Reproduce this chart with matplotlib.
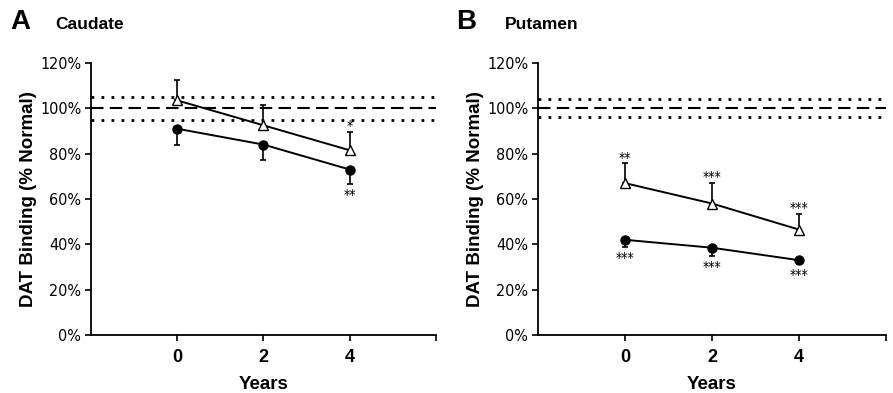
import matplotlib
matplotlib.use("Agg")
import matplotlib.pyplot as plt

YEARS = [0, 2, 4]

# Caudate (panel A)
caud_open = [103.5, 92.5, 81.5]
caud_open_err = [8.8, 8.8, 8.0]
caud_open_stars = ["", "", "*"]
caud_filled = [91.0, 84.0, 73.0]
caud_filled_err = [7.0, 7.0, 6.3]
caud_filled_stars = ["", "", "**"]
caud_band = [95, 100, 105]

# Putamen (panel B)
put_open = [67.0, 58.0, 46.5]
put_open_err = [8.7, 8.9, 7.0]
put_open_stars = ["**", "***", "***"]
put_filled = [42.0, 38.5, 33.0]
put_filled_err = [3.0, 3.5, 1.6]
put_filled_stars = ["***", "***", "***"]
put_band = [96, 100, 104]

plt.rcParams["font.family"] = ["Liberation Sans", "DejaVu Sans"]
NARROW = dict(family="DejaVu Sans", stretch="condensed")


def draw_panel(ax, opn, opn_err, opn_st, fil, fil_err, fil_st, band):
    lo, mid, hi = band
    ax.axhline(mid, color="black", linestyle=(0, (6, 3)), linewidth=1.5, zorder=1)
    ax.axhline(hi, color="black", linestyle=(0, (1, 2.6)), linewidth=2, zorder=1)
    ax.axhline(lo, color="black", linestyle=(0, (1, 2.6)), linewidth=2, zorder=1)

    ax.errorbar(YEARS, opn, yerr=[[0] * 3, opn_err], fmt="none", ecolor="black",
                elinewidth=1.2, capsize=2, capthick=1.2, zorder=2)
    ax.errorbar(YEARS, fil, yerr=[fil_err, [0] * 3], fmt="none", ecolor="black",
                elinewidth=1.2, capsize=2, capthick=1.2, zorder=2)
    ax.plot(YEARS, opn, color="black", linewidth=1.4, marker="^", markersize=6.5,
            markerfacecolor="white", markeredgecolor="black", markeredgewidth=1.0, zorder=3)
    ax.plot(YEARS, fil, color="black", linewidth=1.4, marker="o", markersize=6.5,
            markerfacecolor="black", zorder=3)

    for x, y, e, s in zip(YEARS, opn, opn_err, opn_st):
        if s:
            ax.text(x, y + e - 0.5, s, ha="center", va="bottom", fontsize=10, **NARROW)
    for x, y, e, s in zip(YEARS, fil, fil_err, fil_st):
        if s:
            ax.text(x, y - e - 2.0, s, ha="center", va="top", fontsize=10, **NARROW)

    ax.set_xlim(-2, 6)
    ax.set_ylim(0, 120)
    ax.set_yticks([0, 20, 40, 60, 80, 100, 120])
    ax.set_yticklabels([f"{v}%" for v in range(0, 121, 20)], fontsize=11.5, **NARROW)
    ax.set_xticks([0, 2, 4, 6])
    ax.set_xticklabels(["0", "2", "4", ""], fontsize=13, fontweight="bold")
    ax.tick_params(direction="out", length=4, width=1.2, pad=3)
    ax.tick_params(axis="x", pad=6)
    ax.spines["top"].set_visible(False)
    ax.spines["right"].set_visible(False)
    ax.spines["left"].set_linewidth(1.3)
    ax.spines["bottom"].set_linewidth(1.3)
    ax.set_xlabel("Years", fontsize=13.5, fontweight="bold", labelpad=7)
    ax.set_ylabel("DAT Binding (% Normal)", fontsize=13.5, fontweight="bold", labelpad=2)


fig = plt.figure(figsize=(8.93, 3.93), dpi=100)
ax_a = fig.add_axes([0.1019, 0.1476, 0.3863, 0.6921])
ax_b = fig.add_axes([0.6025, 0.1476, 0.3897, 0.6921])

draw_panel(ax_a, caud_open, caud_open_err, caud_open_stars,
           caud_filled, caud_filled_err, caud_filled_stars, caud_band)
draw_panel(ax_b, put_open, put_open_err, put_open_stars,
           put_filled, put_filled_err, put_filled_stars, put_band)

fig.text(0.012, 0.945, "A", fontsize=20, fontweight="bold", va="center")
fig.text(0.062, 0.937, "Caudate", fontsize=12.5, fontweight="bold", va="center")
fig.text(0.511, 0.945, "B", fontsize=20, fontweight="bold", va="center")
fig.text(0.565, 0.937, "Putamen", fontsize=12.5, fontweight="bold", va="center")

fig.savefig("out.png", dpi=100, facecolor="white")
